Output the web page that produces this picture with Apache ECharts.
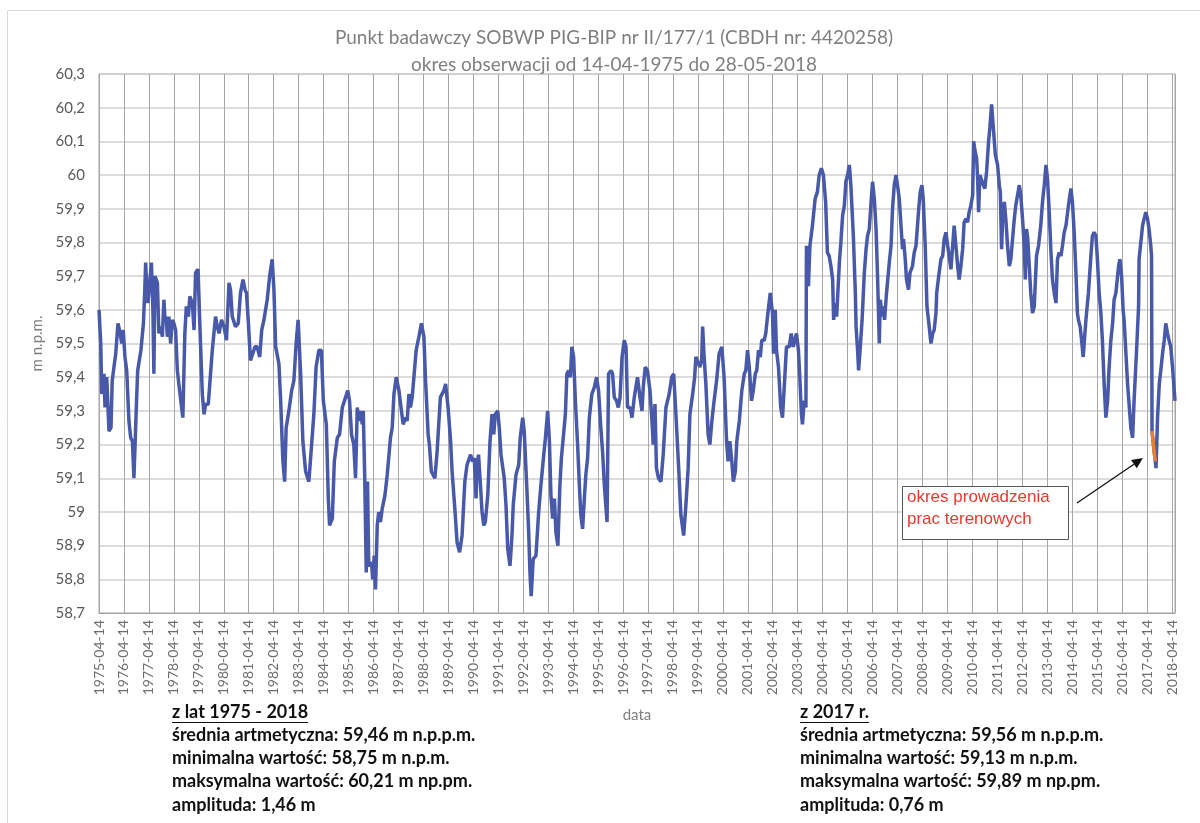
<!DOCTYPE html>
<html>
<head>
<meta charset="utf-8">
<script src="https://cdn.jsdelivr.net/npm/echarts@6/dist/echarts.min.js"></script>
<style>
html,body{margin:0;padding:0;background:#fff;}
#chart{width:1200px;height:823px;}
</style>
</head>
<body>
<div id="chart"></div>
<script>
// x = years since 1975-04-14, y = water level [m n.p.m.]
const yearTicks = []; for (let y = 1975; y <= 2018; y++) yearTicks.push(y + '-04-14');
const yTickMin = 58.7, yTickMax = 60.3;

const seg1975_1989 = [[0.00,59.60],[0.07,59.50],[0.11,59.35],[0.20,59.41],[0.24,59.31],[0.31,59.40],[0.40,59.24],[0.48,59.25],[0.53,59.39],[0.67,59.47],[0.76,59.56],[0.85,59.53],[0.91,59.50],[0.97,59.54],[1.04,59.46],[1.11,59.42],[1.20,59.27],[1.27,59.22],[1.34,59.21],[1.40,59.10],[1.50,59.32],[1.55,59.42],[1.68,59.48],[1.78,59.56],[1.83,59.65],[1.87,59.74],[1.92,59.65],[1.96,59.62],[2.03,59.68],[2.10,59.74],[2.16,59.60],[2.20,59.41],[2.24,59.70],[2.34,59.68],[2.40,59.53],[2.47,59.55],[2.54,59.52],[2.60,59.63],[2.64,59.58],[2.70,59.57],[2.74,59.52],[2.80,59.58],[2.87,59.50],[2.94,59.57],[3.00,59.56],[3.07,59.54],[3.14,59.42],[3.23,59.36],[3.36,59.28],[3.44,59.53],[3.50,59.61],[3.58,59.58],[3.64,59.64],[3.74,59.62],[3.81,59.54],[3.87,59.71],[3.97,59.72],[4.03,59.58],[4.14,59.35],[4.21,59.29],[4.27,59.32],[4.38,59.32],[4.54,59.48],[4.67,59.58],[4.74,59.55],[4.81,59.53],[4.91,59.57],[5.01,59.55],[5.11,59.51],[5.21,59.68],[5.27,59.66],[5.34,59.58],[5.47,59.55],[5.58,59.56],[5.67,59.65],[5.77,59.69],[5.85,59.66],[5.91,59.65],[5.98,59.57],[6.07,59.45],[6.14,59.45],[6.25,59.49],[6.34,59.49],[6.44,59.46],[6.52,59.54],[6.61,59.57],[6.74,59.63],[6.84,59.70],[6.94,59.75],[7.01,59.66],[7.08,59.49],[7.21,59.44],[7.28,59.33],[7.37,59.15],[7.44,59.09],[7.50,59.25],[7.61,59.30],[7.72,59.36],[7.81,59.39],[7.90,59.50],[7.98,59.57],[8.08,59.41],[8.17,59.21],[8.28,59.12],[8.41,59.09],[8.50,59.18],[8.61,59.29],[8.70,59.43],[8.81,59.48],[8.91,59.48],[8.99,59.33],[9.11,59.26],[9.19,59.04],[9.24,58.96],[9.35,58.98],[9.43,59.15],[9.55,59.22],[9.64,59.23],[9.75,59.31],[9.88,59.34],[9.97,59.36],[10.04,59.33],[10.12,59.23],[10.21,59.20],[10.28,59.10],[10.35,59.31],[10.41,59.27],[10.48,59.30],[10.55,59.26],[10.59,59.30],[10.65,59.10],[10.71,58.82],[10.76,59.09],[10.81,58.84],[10.92,58.85],[10.97,58.80],[11.03,58.87],[11.08,58.77],[11.15,58.96],[11.21,59.00],[11.28,58.97],[11.35,59.01],[11.46,59.05],[11.55,59.11],[11.68,59.22],[11.75,59.25],[11.82,59.35],[11.91,59.40],[12.02,59.36],[12.12,59.30],[12.19,59.26],[12.28,59.28],[12.35,59.27],[12.42,59.35],[12.48,59.31],[12.55,59.34],[12.62,59.40],[12.71,59.48],[12.82,59.52],[12.92,59.56],[13.02,59.52],[13.08,59.40],[13.19,59.23],[13.24,59.20],[13.32,59.12],[13.46,59.10],[13.55,59.18],[13.68,59.34],[13.82,59.36],[13.89,59.38],[13.99,59.31],[14.09,59.21],[14.15,59.12],[14.26,59.01],[14.35,58.91],[14.45,58.88],[14.55,58.93],[14.66,59.09],[14.75,59.14],[14.89,59.17]];

const seg1990_2004 = [[14.97,59.15],[15.04,59.16],[15.11,59.04],[15.15,59.14],[15.21,59.17],[15.27,59.10],[15.35,59.00],[15.42,58.96],[15.48,58.97],[15.58,59.05],[15.67,59.21],[15.75,59.29],[15.82,59.23],[15.88,59.29],[15.98,59.30],[16.04,59.25],[16.11,59.17],[16.24,59.10],[16.31,59.02],[16.38,58.89],[16.47,58.84],[16.55,58.93],[16.60,59.02],[16.71,59.11],[16.82,59.14],[16.88,59.22],[16.98,59.28],[17.04,59.24],[17.14,59.08],[17.22,58.94],[17.27,58.82],[17.32,58.75],[17.40,58.86],[17.51,58.87],[17.62,59.00],[17.71,59.08],[17.81,59.16],[17.89,59.22],[17.98,59.30],[18.05,59.21],[18.11,59.05],[18.18,58.98],[18.25,59.04],[18.31,58.94],[18.39,58.90],[18.47,59.08],[18.53,59.16],[18.61,59.16],[18.69,59.29],[18.75,59.41],[18.82,59.42],[18.89,59.40],[18.95,59.49],[19.02,59.46],[19.09,59.33],[19.18,59.20],[19.25,59.08],[19.31,58.99],[19.38,58.95],[19.45,59.04],[19.51,59.11],[19.58,59.16],[19.65,59.28],[19.75,59.35],[19.85,59.37],[19.94,59.40],[20.02,59.36],[20.11,59.25],[20.18,59.18],[20.25,59.08],[20.36,58.97],[20.42,59.41],[20.52,59.42],[20.58,59.41],[20.65,59.34],[20.74,59.33],[20.81,59.31],[20.88,59.34],[20.96,59.46],[21.05,59.51],[21.12,59.49],[21.18,59.31],[21.28,59.31],[21.36,59.28],[21.45,59.34],[21.58,59.40],[21.68,59.34],[21.76,59.30],[21.81,59.37],[21.89,59.43],[21.98,59.42],[22.08,59.36],[22.16,59.27],[22.21,59.20],[22.28,59.32],[22.34,59.13],[22.42,59.10],[22.52,59.09],[22.61,59.17],[22.72,59.31],[22.79,59.31],[22.85,59.35],[22.95,59.40],[23.03,59.41],[23.12,59.29],[23.23,59.13],[23.32,58.99],[23.43,58.93],[23.52,59.02],[23.61,59.13],[23.68,59.29],[23.79,59.35],[23.87,59.40],[23.92,59.46],[24.00,59.46],[24.08,59.43],[24.15,59.45],[24.19,59.55],[24.25,59.46],[24.32,59.38],[24.41,59.23],[24.48,59.20],[24.56,59.27],[24.65,59.33],[24.75,59.39],[24.85,59.47],[24.96,59.49],[25.05,59.40],[25.15,59.21],[25.21,59.15],[25.28,59.21],[25.36,59.15],[25.42,59.09],[25.50,59.12],[25.56,59.21],[25.66,59.27],[25.76,59.36],[25.86,59.41],[25.92,59.42],[25.99,59.48],[26.06,59.43],[26.15,59.33],[26.22,59.36],[26.30,59.41],[26.36,59.42],[26.43,59.48],[26.50,59.46],[26.56,59.51],[26.66,59.51],[26.72,59.53],[26.79,59.58],[26.90,59.65],[26.99,59.59],[27.03,59.47],[27.10,59.60],[27.12,59.60],[27.15,59.48],[27.23,59.43],[27.32,59.31],[27.39,59.28],[27.46,59.37],[27.55,59.49],[27.66,59.49],[27.74,59.53],[27.82,59.49],[27.90,59.49],[27.95,59.53],[28.03,59.48],[28.09,59.39],[28.15,59.29],[28.19,59.26],[28.26,59.33],[28.33,59.31],[28.35,59.79],[28.43,59.67],[28.49,59.79],[28.59,59.85],[28.70,59.93],[28.79,59.95],[28.86,60.00],[28.95,60.02],[29.03,60.00],[29.12,59.92],[29.19,59.77],[29.26,59.76]];

const seg2004_2018 = [[29.33,59.73],[29.40,59.69],[29.44,59.57],[29.50,59.62],[29.56,59.58],[29.67,59.74],[29.73,59.80],[29.80,59.88],[29.87,59.91],[29.93,59.98],[30.00,60.00],[30.07,60.03],[30.13,59.97],[30.23,59.82],[30.31,59.65],[30.34,59.55],[30.40,59.48],[30.44,59.42],[30.50,59.48],[30.58,59.57],[30.67,59.71],[30.74,59.78],[30.80,59.82],[30.87,59.84],[30.94,59.92],[31.00,59.98],[31.07,59.93],[31.14,59.84],[31.20,59.70],[31.27,59.50],[31.31,59.63],[31.38,59.58],[31.43,59.61],[31.48,59.57],[31.56,59.65],[31.67,59.74],[31.74,59.79],[31.80,59.90],[31.87,59.97],[31.94,60.00],[32.00,59.97],[32.07,59.93],[32.14,59.85],[32.20,59.78],[32.24,59.81],[32.31,59.75],[32.36,59.69],[32.44,59.66],[32.50,59.71],[32.60,59.73],[32.67,59.77],[32.74,59.79],[32.85,59.90],[32.91,59.95],[32.98,59.97],[33.03,59.93],[33.11,59.79],[33.18,59.61],[33.21,59.59],[33.27,59.55],[33.34,59.50],[33.41,59.53],[33.47,59.54],[33.54,59.59],[33.57,59.65],[33.65,59.70],[33.74,59.75],[33.81,59.76],[33.87,59.81],[33.94,59.83],[34.01,59.79],[34.07,59.76],[34.14,59.72],[34.21,59.79],[34.27,59.85],[34.34,59.79],[34.41,59.73],[34.47,59.69],[34.54,59.73],[34.61,59.78],[34.67,59.86],[34.74,59.87],[34.81,59.86],[34.87,59.89],[34.94,59.91],[35.01,59.94],[35.05,60.10],[35.11,60.07],[35.17,60.05],[35.21,59.99],[35.25,59.89],[35.30,60.00],[35.37,60.00],[35.44,59.97],[35.50,59.96],[35.57,60.01],[35.65,60.10],[35.70,60.14],[35.77,60.21],[35.84,60.14],[35.92,60.06],[36.01,60.03],[36.08,59.97],[36.12,59.95],[36.17,59.78],[36.21,59.87],[36.28,59.92],[36.34,59.87],[36.41,59.79],[36.48,59.73],[36.54,59.75],[36.61,59.81],[36.68,59.87],[36.74,59.91],[36.81,59.94],[36.88,59.97],[36.94,59.94],[37.01,59.87],[37.08,59.79],[37.12,59.69],[37.17,59.84],[37.22,59.81],[37.28,59.73],[37.34,59.65],[37.41,59.59],[37.48,59.61],[37.57,59.76],[37.65,59.79],[37.74,59.85],[37.81,59.92],[37.88,59.97],[37.95,60.03],[38.01,59.99],[38.08,59.89],[38.15,59.77],[38.21,59.69],[38.28,59.65],[38.35,59.62],[38.41,59.75],[38.48,59.77],[38.55,59.76],[38.61,59.79],[38.68,59.83],[38.75,59.85],[38.85,59.91],[38.95,59.96],[39.01,59.92],[39.08,59.83],[39.15,59.71],[39.21,59.59],[39.25,59.57],[39.32,59.55],[39.39,59.50],[39.44,59.46],[39.49,59.51],[39.55,59.57],[39.65,59.65],[39.75,59.76],[39.81,59.82],[39.88,59.83],[39.95,59.82],[40.01,59.75],[40.08,59.65],[40.15,59.59],[40.21,59.51],[40.28,59.38],[40.35,59.28],[40.42,59.33],[40.48,59.43],[40.55,59.51],[40.62,59.56],[40.68,59.63],[40.75,59.65],[40.86,59.73],[40.91,59.75],[40.98,59.70],[41.04,59.60],[41.08,59.57],[41.22,59.38],[41.35,59.25],[41.42,59.22],[41.48,59.33],[41.58,59.48],[41.66,59.61],[41.68,59.75],[41.75,59.80],[41.82,59.85],[41.88,59.87],[41.95,59.89],[42.02,59.87],[42.08,59.84],[42.15,59.79],[42.18,59.76],[42.20,59.24],[42.27,59.19],[42.33,59.15],[42.36,59.13],[42.42,59.28],[42.49,59.38],[42.55,59.42],[42.62,59.47],[42.69,59.51],[42.75,59.56],[42.82,59.53],[42.88,59.51],[42.95,59.49],[43.02,59.43],[43.12,59.33]];

const fieldWork2017 = [[42.20,59.24],[42.27,59.19],[42.33,59.15]];

const titleLines = ['Punkt badawczy SOBWP PIG-BIP nr II/177/1 (CBDH nr: 4420258)', 'okres obserwacji od 14-04-1975 do 28-05-2018'];
const statsAll = ['z lat 1975 - 2018', 'średnia artmetyczna: 59,46 m n.p.p.m.', 'minimalna wartość: 58,75 m n.p.m.', 'maksymalna wartość: 60,21 m np.pm.', 'amplituda: 1,46 m'];
const stats2017 = ['z 2017 r.', 'średnia artmetyczna: 59,56 m n.p.p.m.', 'minimalna wartość: 59,13 m n.p.m.', 'maksymalna wartość: 59,89 m np.pm.', 'amplituda: 0,76 m'];
const noteLines = ['okres prowadzenia', 'prac terenowych'];

const series = seg1975_1989.concat(seg1990_2004, seg2004_2018);
const X_MAX = 43.12;

const chart = echarts.init(document.getElementById('chart'), null, {renderer: 'canvas'});

const STATS_FONT = 'bold 18px Lato';
const measureCtx = document.createElement('canvas').getContext('2d');
function textWidth(t, font) { measureCtx.font = font; return measureCtx.measureText(t).width; }

function statsBlock(lines, x) {
  const els = [];
  lines.forEach((t, i) => {
    els.push({type: 'text', x: x, y: 712 + i * 23.2, style: {text: t, font: STATS_FONT, fill: '#111', textVerticalAlign: 'middle', verticalAlign: 'middle'}});
  });
  const w = textWidth(lines[0], STATS_FONT);
  els.push({type: 'line', shape: {x1: x, y1: 722.5, x2: x + w, y2: 722.5}, style: {stroke: '#111', lineWidth: 1.2}});
  return els;
}

const arrowFrom = [1077, 503], arrowTo = [1143, 458];
const ang = Math.atan2(arrowTo[1] - arrowFrom[1], arrowTo[0] - arrowFrom[0]);
const ah = 11, aw = 5;
const base = [arrowTo[0] - ah * Math.cos(ang), arrowTo[1] - ah * Math.sin(ang)];
const headPts = [arrowTo,
  [base[0] + aw * Math.sin(ang), base[1] - aw * Math.cos(ang)],
  [base[0] - aw * Math.sin(ang), base[1] + aw * Math.cos(ang)]];

const graphics = [
  {type: 'rect', shape: {x: 7.5, y: 10.5, width: 1200, height: 830}, style: {fill: 'none', stroke: '#d9d9d9', lineWidth: 1}, silent: true, z: -10},
  ...statsBlock(statsAll, 172),
  ...statsBlock(stats2017, 800),
  {type: 'rect', shape: {x: 902.5, y: 486.5, width: 166, height: 53}, style: {fill: '#fff', stroke: '#555', lineWidth: 1}, z: 100},
  {type: 'text', left: 907, top: 489, z: 101, style: {text: noteLines[0], font: '17px "Liberation Sans"', fill: '#e8392c'}},
  {type: 'text', left: 907, top: 511, z: 101, style: {text: noteLines[1], font: '17px "Liberation Sans"', fill: '#e8392c'}},
  {type: 'line', z: 100, shape: {x1: arrowFrom[0], y1: arrowFrom[1], x2: base[0], y2: base[1]}, style: {stroke: '#111', lineWidth: 1.3}},
  {type: 'polygon', z: 100, shape: {points: headPts}, style: {fill: '#111'}}
];

chart.setOption({
  animation: false,
  backgroundColor: '#fff',
  title: {
    text: titleLines.join('\n'),
    left: 609,
    textAlign: 'center',
    top: 19,
    textStyle: {fontFamily: 'Lato', fontSize: 19, fontWeight: 'normal', color: '#7f7f7f', lineHeight: 27}
  },
  grid: {left: 99, top: 74, width: 1076, height: 539, show: true, borderColor: '#a3a3a3', borderWidth: 1},
  xAxis: {
    type: 'value', min: 0, max: X_MAX, interval: 1,
    name: 'data', nameLocation: 'middle', nameGap: 95,
    nameTextStyle: {fontFamily: 'Lato', fontSize: 15, color: '#7f7f7f'},
    axisLine: {show: true, lineStyle: {color: '#a3a3a3'}},
    axisTick: {show: false},
    splitLine: {show: true, lineStyle: {color: '#a6a6a6', width: 1}},
    axisLabel: {
      rotate: 90, margin: 7, fontFamily: 'Lato', fontSize: 14, color: '#6e6e6e',
      showMaxLabel: false,
      formatter: v => {
        const r = Math.round(v);
        return Math.abs(v - r) < 1e-6 && r < yearTicks.length ? yearTicks[r] : '';
      }
    }
  },
  yAxis: {
    type: 'value', min: yTickMin, max: yTickMax, interval: 0.1,
    name: 'm n.p.m.', nameLocation: 'middle', nameGap: 47,
    nameTextStyle: {fontFamily: 'Lato', fontSize: 15, color: '#7f7f7f'},
    axisLine: {show: false}, axisTick: {show: false},
    splitLine: {show: true, lineStyle: {color: '#d3cfcb', width: 1.5}},
    axisLabel: {
      margin: 14, fontFamily: 'Lato', fontSize: 15, color: '#595959',
      formatter: v => String(Math.round(v * 10) / 10).replace('.', ',')
    }
  },
  series: [
    {type: 'line', data: series, showSymbol: false, symbol: 'none', lineStyle: {color: '#4759a8', width: 3.5}, z: 3},
    {type: 'line', data: fieldWork2017, showSymbol: false, symbol: 'none', lineStyle: {color: '#ed7d31', width: 3.5}, z: 4}
  ],
  graphic: graphics
});
</script>
</body>
</html>
